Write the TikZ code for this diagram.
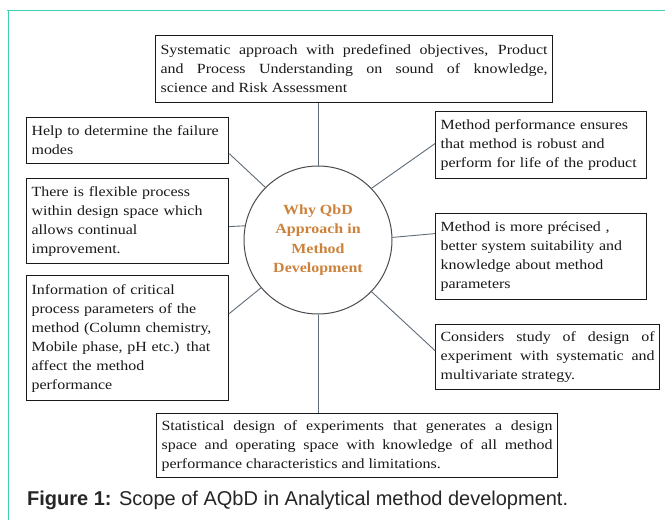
\documentclass[tikz,border=0pt]{standalone}
\usepackage{fontspec}
\setmainfont{Liberation Serif}[FakeStretch=1.14]
\newfontfamily\capfont{Liberation Sans}
\usetikzlibrary{calc}
\definecolor{frameteal}{RGB}{64,206,178}
\definecolor{linkgray}{RGB}{95,108,122}
\definecolor{hubtext}{RGB}{205,130,60}
\begin{document}
\begin{tikzpicture}[x=1pt,y=-1pt,
  box/.style={draw=black!90, line width=1.2pt, fill=white, inner xsep=5pt, inner ysep=2pt, font=\fontsize{14}{19}\selectfont, text=black!90, anchor=north west, align=left},
  jbox/.style={box, align=justify},
  link/.style={draw=linkgray, line width=0.9pt},
  hub/.style={circle, draw=black!70, line width=1pt, fill=white, minimum size=148pt, inner sep=0pt, align=center, font=\fontsize{14}{19.5}\selectfont\bfseries, text=hubtext},
  frameline/.style={draw=frameteal, line width=1.8pt}]
\useasboundingbox (0,0) rectangle (665,520);
\fill[white] (0,0) rectangle (665,520);
\draw[frameline] (7,10.5) -- (665,10.5);
\draw[frameline] (8.5,10.5) -- (8.5,520);

\node[jbox, minimum width=397pt, minimum height=67pt, text width=387pt] (T) at (155,35)
  {Systematic approach with predefined objectives, Product\linebreak and Process Understanding on sound of knowledge,\linebreak science and Risk Assessment};
\node[box, minimum width=202pt, minimum height=46pt, text width=192pt] (H) at (26,117)
  {Help to determine the failure\\modes};
\node[box, minimum width=202pt, minimum height=85pt, text width=192pt] (F) at (26,178)
  {There is flexible process\\within design space which\\allows continual\\improvement.};
\node[box, minimum width=202pt, minimum height=125pt, text width=192pt] (I) at (26,275)
  {Information of critical\\process parameters of the\\method (Column chemistry,\\Mobile phase, pH etc.) that\\affect the method\\performance};
\node[box, minimum width=211pt, minimum height=67pt, text width=201pt] (MP) at (435,111)
  {Method performance ensures\\that method is robust and\\\mbox{perform for life of the product}};
\node[box, minimum width=211pt, minimum height=86pt, text width=201pt] (MM) at (435,213)
  {Method is more précised ,\\better system suitability and\\knowledge about method\\parameters};
\node[jbox, minimum width=224pt, minimum height=65pt, text width=214pt] (C) at (435,324)
  {Considers study of design of\linebreak experiment with systematic and\linebreak multivariate strategy.};
\node[jbox, minimum width=401pt, minimum height=64pt, text width=391pt] (S) at (156,413)
  {Statistical design of experiments that generates a design\linebreak space and operating space with knowledge of all method\linebreak performance characteristics and limitations.};

\node[hub] (hub) at (318,240) {Why QbD\\Approach in\\Method\\Development};

\draw[link] (hub.north) -- (hub.north |- T.south);
\draw[link] (hub.135) -- ($(H.east)+(0,13)$);
\draw[link] (hub.169) -- ($(F.east)+(0,5.5)$);
\draw[link] (hub.220) -- ($(I.east)+(0,-24.5)$);
\draw[link] (hub.south) -- (hub.south |- S.north);
\draw[link] (hub.-44) -- ($(C.west)+(0,-6.5)$);
\draw[link] (hub.2) -- ($(MM.west)+(0,-23)$);
\draw[link] (hub.44) -- ($(MP.west)+(0,-1.5)$);

\node[anchor=base west, inner sep=0pt, font=\capfont\fontsize{20}{24}\selectfont, text=black!85] (cap) at (27,505)
  {\textbf{Figure 1:} Scope of AQbD in Analytical method development.};
\end{tikzpicture}
\end{document}
